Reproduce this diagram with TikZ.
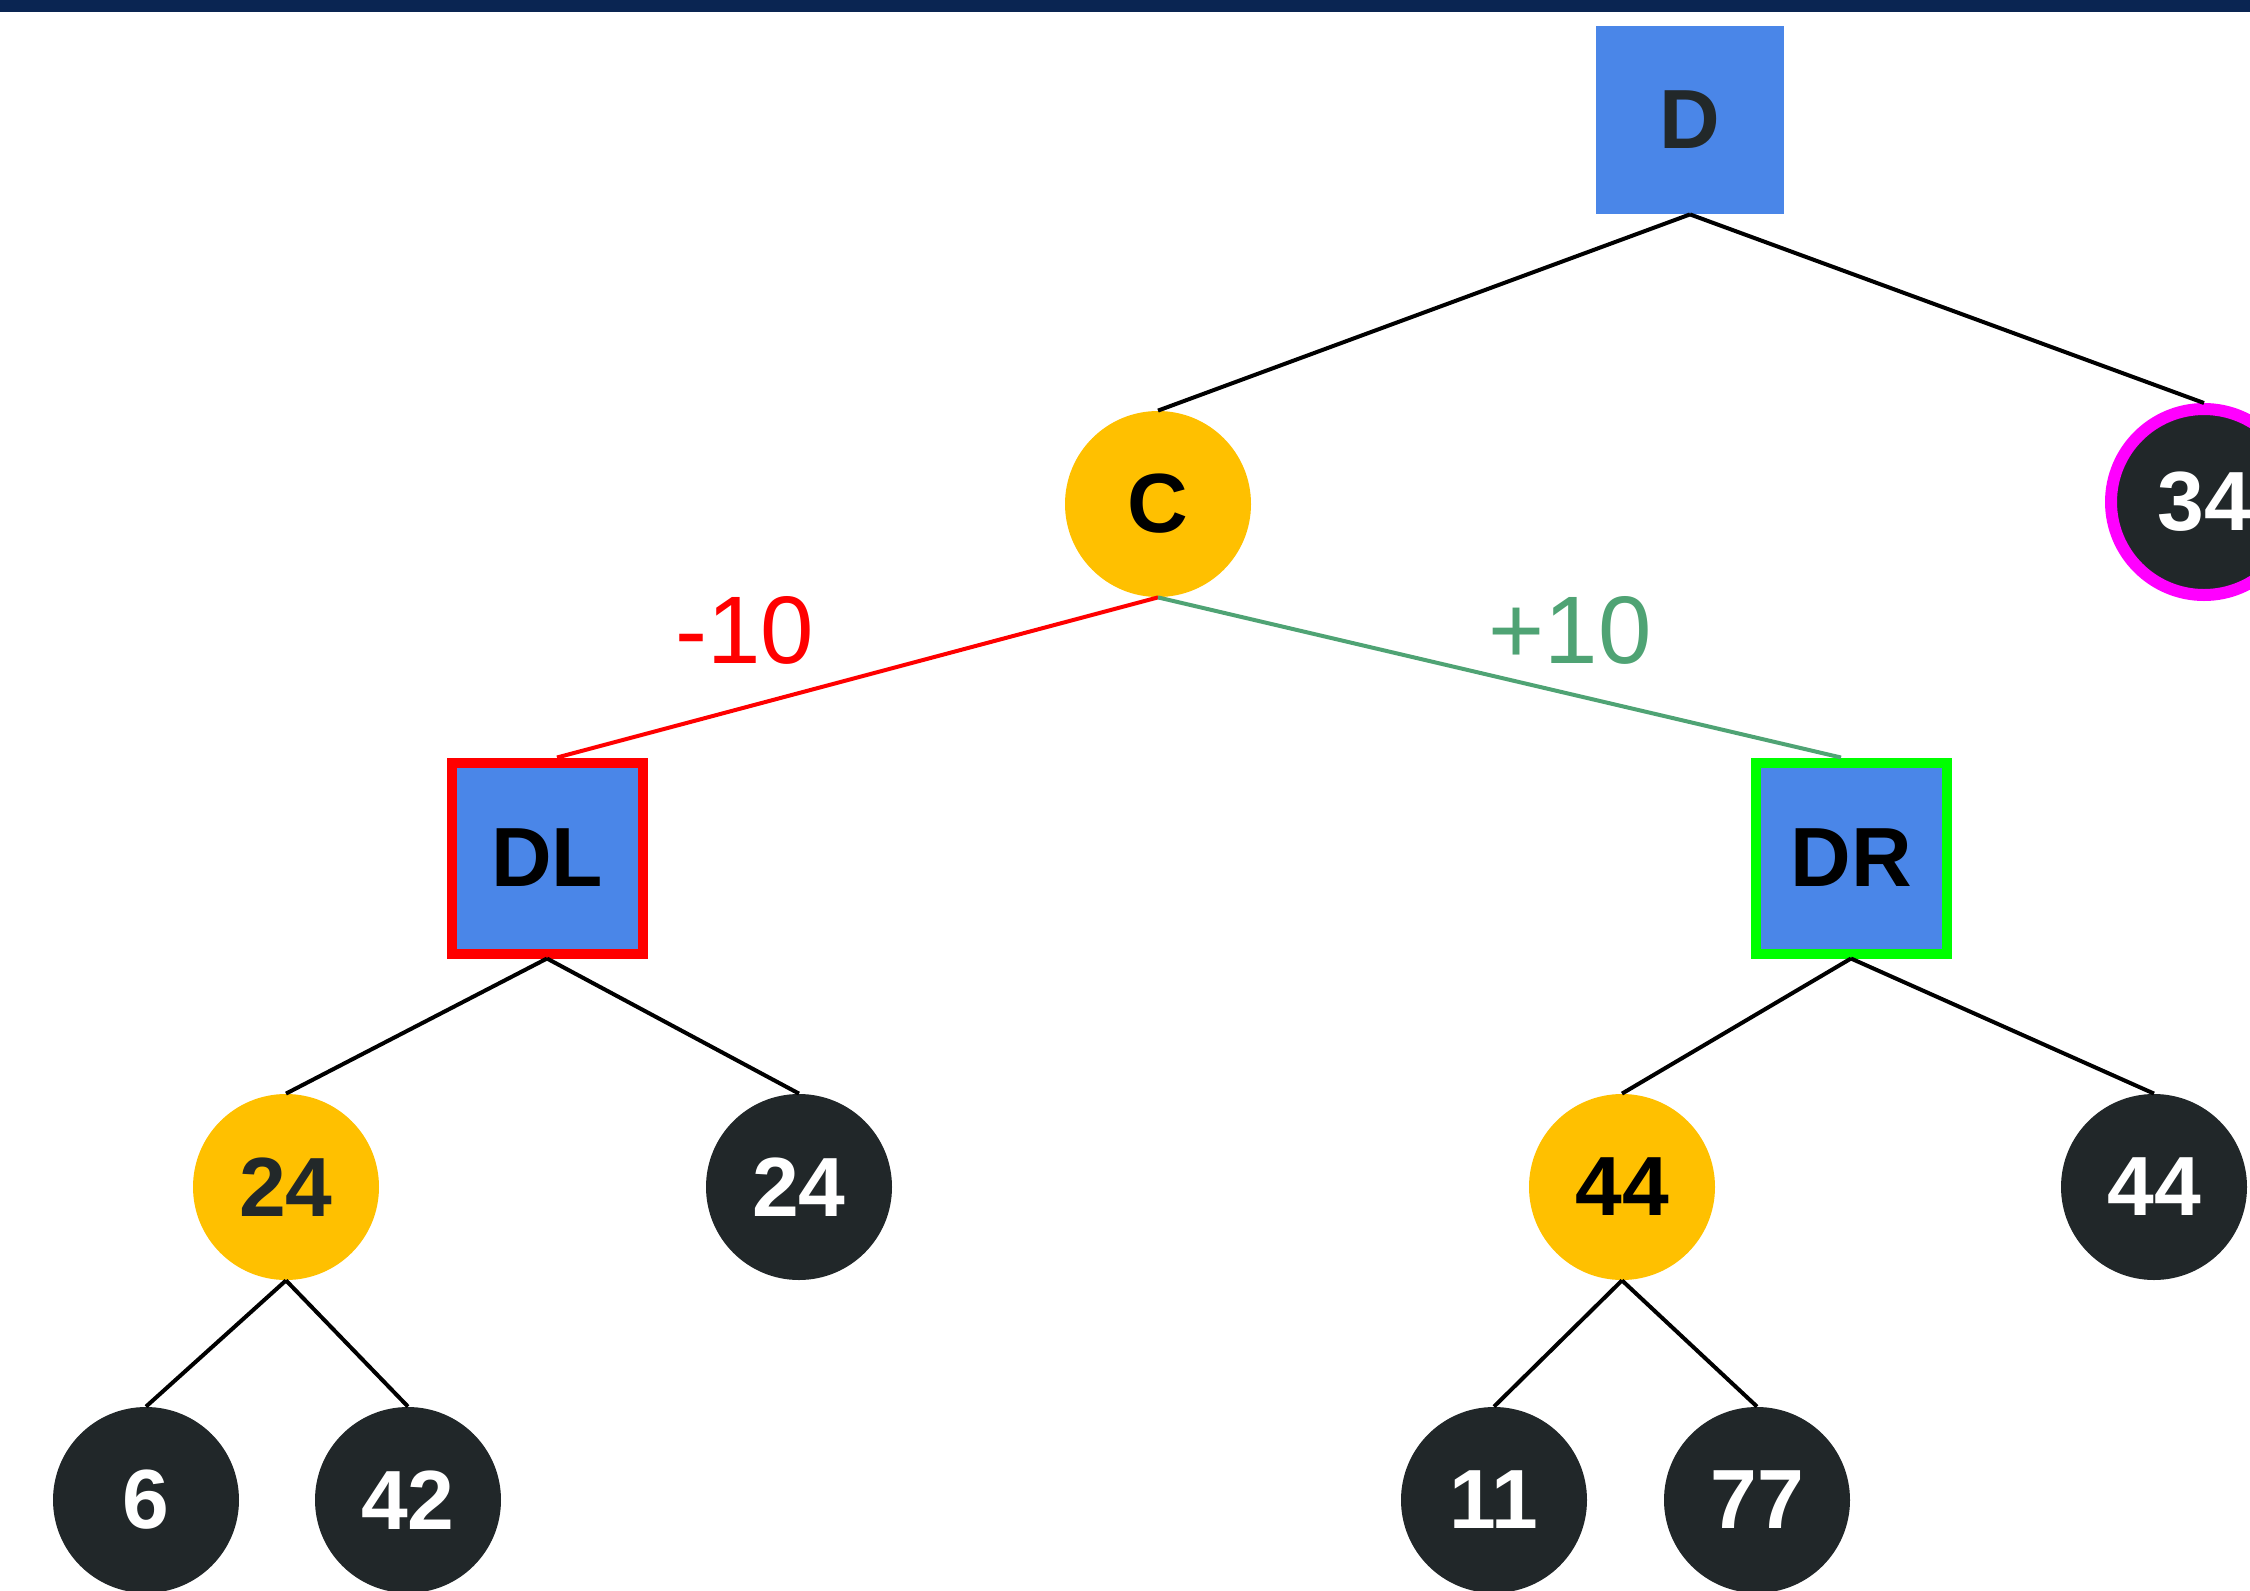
\documentclass[tikz,border=0pt]{standalone}
\usepackage{fontspec}
\setmainfont{Liberation Sans}
\usetikzlibrary{calc}
\definecolor{navybar}{HTML}{0A2552}
\definecolor{nodeblue}{HTML}{4A86E8}
\definecolor{gold}{HTML}{FFC000}
\definecolor{darkc}{HTML}{212729}
\definecolor{darktext}{HTML}{222829}
\definecolor{edgegreen}{HTML}{4FA374}
\definecolor{brightgreen}{HTML}{00FF00}
\definecolor{brightmagenta}{HTML}{FF00FF}
\begin{document}
\begin{tikzpicture}[x=0.5pt,y=-0.5pt,
  lbl/.style={font=\fontsize{42}{42}\selectfont\bfseries},
  sqnode/.style={rectangle, fill=nodeblue, minimum size=94pt, inner sep=0pt, lbl, text=darktext},
  sqframed/.style={rectangle, fill=nodeblue, minimum size=95.5pt, inner sep=0pt, lbl, text=black, line width=5pt},
  circnode/.style={circle, minimum size=93pt, inner sep=0pt, lbl},
  yelnode/.style={circnode, fill=gold, text=darktext},
  blknode/.style={circnode, fill=darkc, text=white},
  edge/.style={draw=black, line width=2pt},
  weight/.style={font=\fontsize{48}{48}\selectfont}
]
\useasboundingbox (0,0) rectangle (2250,1591);
\fill[navybar] (0,0) rectangle (2250,12);

\node[sqnode] (D) at (1690,120) {D};
\node[yelnode, text=black] (C) at (1158,504) {C};
\node[blknode, draw=brightmagenta, line width=6pt] (N34) at (2204,502) {34};
\node[sqframed, draw=red] (DL) at (547,858) {DL};
\node[sqframed, draw=brightgreen] (DR) at (1851,858) {DR};
\node[yelnode] (Y24) at (286,1187) {24};
\node[blknode] (B24) at (799,1187) {24};
\node[yelnode, text=black] (Y44) at (1622,1187) {44};
\node[blknode] (B44) at (2154,1187) {44};
\node[blknode] (N6) at (146,1500) {6};
\node[blknode] (N42) at (408,1500) {42};
\node[blknode] (N11) at (1494,1500) {11};
\node[blknode] (N77) at (1757,1500) {77};

\draw[edge] (D.south) -- (C.north);
\draw[edge] (D.south) -- (N34.north);
\draw[draw=red, line width=2pt] (C.south) -- ($(DL.north)+(10,0)$);
\draw[draw=edgegreen, line width=2pt] (C.south) -- ($(DR.north)+(-10,0)$);
\draw[edge] (DL.south) -- (Y24.north);
\draw[edge] (DL.south) -- (B24.north);
\draw[edge] (DR.south) -- (Y44.north);
\draw[edge] (DR.south) -- (B44.north);
\draw[edge] (Y24.south) -- (N6.north);
\draw[edge] (Y24.south) -- (N42.north);
\draw[edge] (Y44.south) -- (N11.north);
\draw[edge] (Y44.south) -- (N77.north);

\node[weight, text=red] (wl) at (745,630) {-10};
\node[weight, text=edgegreen] (wr) at (1570,630) {+10};
\end{tikzpicture}
\end{document}
